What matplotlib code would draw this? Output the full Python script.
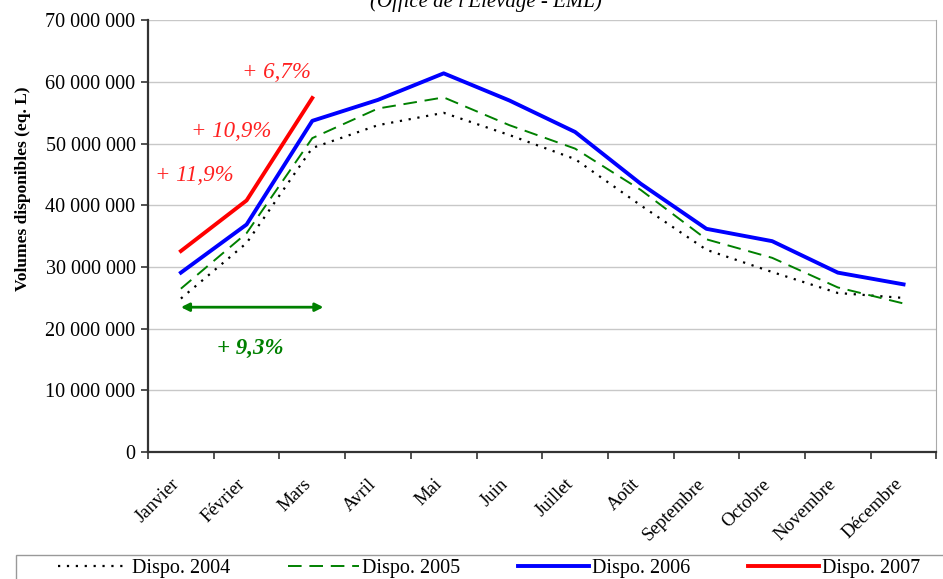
import matplotlib.pyplot as plt
from matplotlib.ticker import FuncFormatter, FixedLocator
from matplotlib.patches import Rectangle
from matplotlib.transforms import ScaledTranslation

plt.rcParams['font.family'] = ['Liberation Serif', 'DejaVu Serif']

mois = ['Janvier', 'Février', 'Mars', 'Avril', 'Mai', 'Juin', 'Juillet',
        'Août', 'Septembre', 'Octobre', 'Novembre', 'Décembre']

# volumes disponibles (eq. L)
dispo_2004 = [24.9e6, 33.9e6, 49.3e6, 53.0e6, 55.0e6, 51.4e6, 47.5e6,
              40.0e6, 32.8e6, 29.2e6, 25.8e6, 25.0e6]
dispo_2005 = [26.5e6, 35.5e6, 50.9e6, 55.7e6, 57.5e6, 53.0e6, 49.2e6,
              42.5e6, 34.5e6, 31.5e6, 26.7e6, 24.1e6]
dispo_2006 = [29.1e6, 36.9e6, 53.7e6, 57.1e6, 61.4e6, 57.0e6, 51.9e6,
              43.5e6, 36.2e6, 34.2e6, 29.1e6, 27.2e6]
dispo_2007 = [32.6e6, 40.8e6, 57.4e6]

hausses_2007 = ['+ 11,9%', '+ 10,9%', '+ 6,7%']
hausse_trim = '+ 9,3%'

fig = plt.figure(figsize=(9.43, 5.79), dpi=100)
ax = fig.add_axes([0.157, 0.219, 0.836, 0.746])

x = list(range(len(mois)))
l1, = ax.plot(x, dispo_2004, color='black', lw=1.6, ls=(0, (1, 3)), label='Dispo. 2004')
l2, = ax.plot(x, dispo_2005, color='green', lw=1.4, ls=(0, (7, 4)), label='Dispo. 2005')
l3, = ax.plot(x, dispo_2006, color='blue', lw=2.8, label='Dispo. 2006')
l4, = ax.plot(x[:3], dispo_2007, color='red', lw=2.8, label='Dispo. 2007')

ax.set_xlim(-0.5, 11.5)
ax.set_ylim(0, 70e6)
ax.yaxis.set_major_locator(FixedLocator([i * 10e6 for i in range(8)]))
ax.yaxis.set_major_formatter(FuncFormatter(lambda v, p: f'{int(v):,}'.replace(',', ' ')))
ax.grid(axis='y', color='#c8c8c8', lw=1)
ax.set_axisbelow(True)

ax.set_xticks(x)
ax.xaxis.set_minor_locator(FixedLocator([i - 0.5 for i in range(13)]))
ax.tick_params(axis='x', which='major', length=0, pad=14, labelsize=13.5)
ax.tick_params(axis='x', which='minor', length=5, width=1.2, color='#333333')
ax.set_xticklabels(mois, rotation=45, ha='right', rotation_mode='anchor')
decal = ScaledTranslation(-10 / 100, -4 / 100, fig.dpi_scale_trans)
for lab in ax.get_xticklabels():
    lab.set_transform(lab.get_transform() + decal)
ax.tick_params(axis='y', length=5, width=1.2, color='#333333', labelsize=14.5, pad=4)

for s in ['left', 'bottom']:
    ax.spines[s].set_linewidth(1.6)
    ax.spines[s].set_color('#333333')
ax.spines['top'].set_visible(False)
ax.spines['right'].set_color('#aaaaaa')

ax.set_ylabel('Volumes disponibles (eq. L)', fontsize=12.5, fontweight='bold')
ax.yaxis.set_label_coords(-0.148, 0.609)

# annotations
kw = dict(color='#ff2020', style='italic', fontsize=16.5, ha='center', va='center')
ax.text(0.21, 44.9e6, hausses_2007[0], **kw)
ax.text(0.77, 52.0e6, hausses_2007[1], **kw)
ax.text(1.45, 61.6e6, hausses_2007[2], **kw)
ax.annotate('', xy=(0, 23.5e6), xytext=(2.17, 23.5e6),
            arrowprops=dict(arrowstyle='<|-|>', color='green', lw=2, mutation_scale=12,
                            shrinkA=0, shrinkB=0))
ax.text(1.05, 16.85e6, hausse_trim, color='green', style='italic', fontweight='bold',
        fontsize=16.5, ha='center', va='center')

fig.text(0.515, 0.997, "(Office de l'Elevage - EML)", style='italic', fontsize=15,
         ha='center', va='center')

# cadre de la légende
fig.patches.append(Rectangle((16 / 943, -0.05), 0.99, 0.05 + 24 / 579, transform=fig.transFigure,
                             fill=False, edgecolor='#999999', lw=1))
leg = fig.legend(handles=[l1, l2, l3, l4], loc='center left', bbox_to_anchor=(58 / 943, 1 - 568 / 579),
                 ncol=4, frameon=False, fontsize=14.5, handlelength=3.5, handletextpad=0.15,
                 columnspacing=2.9, borderpad=0, borderaxespad=0)

fig.savefig('out.png', dpi=100)
